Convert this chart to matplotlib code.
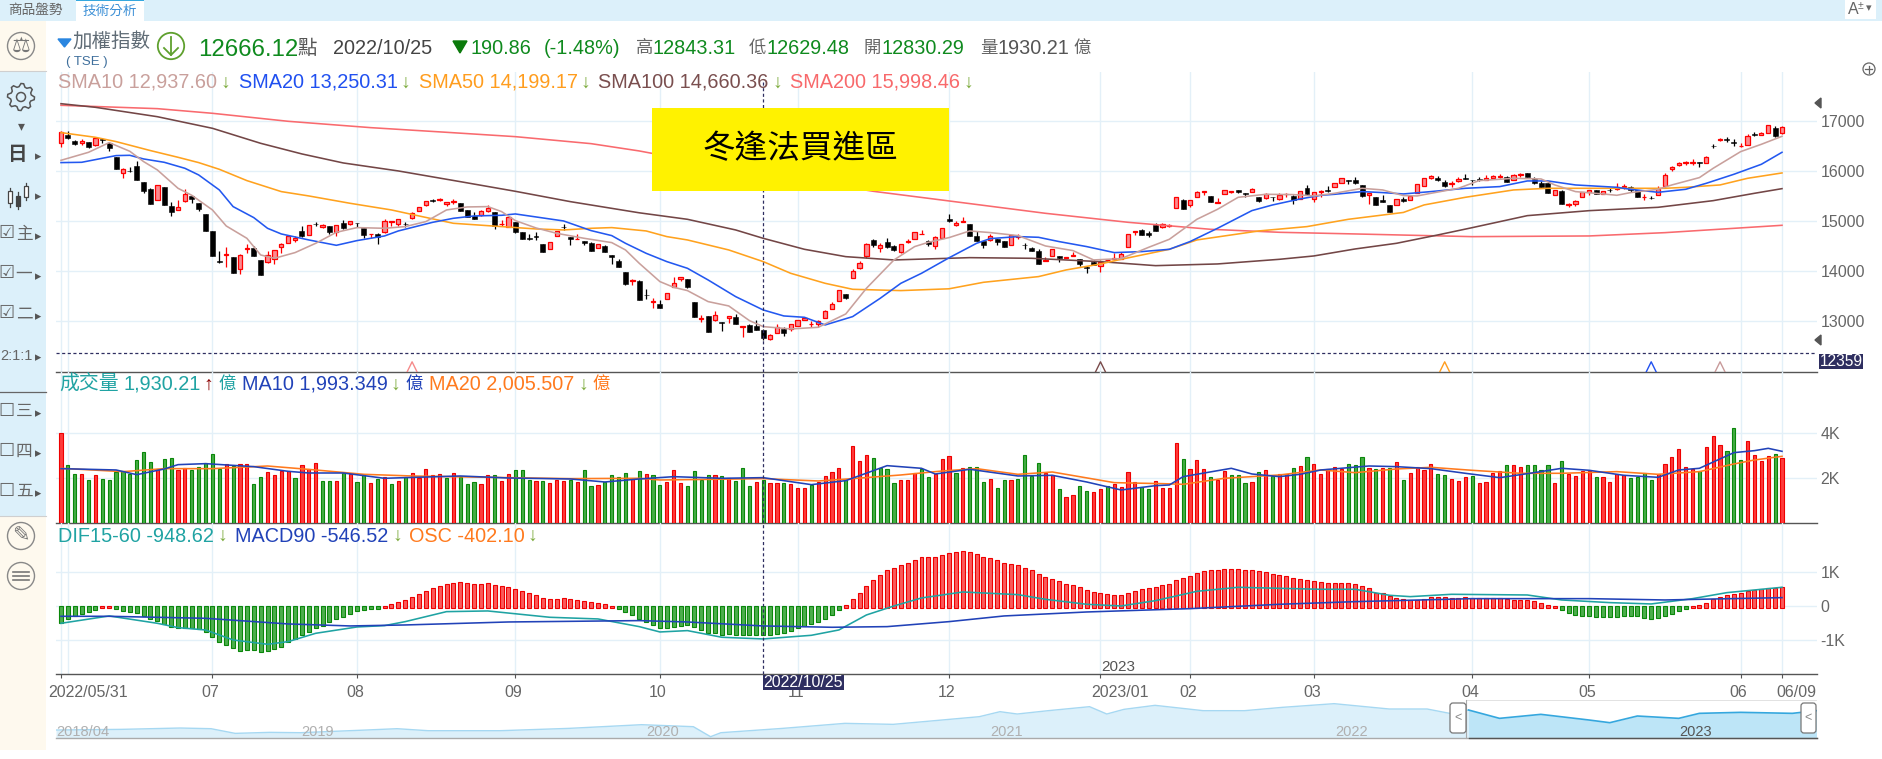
import numpy as np
import matplotlib
matplotlib.use("Agg")
import matplotlib.pyplot as plt
from matplotlib.patches import Rectangle, Circle, FancyBboxPatch, Polygon
from matplotlib.transforms import ScaledTranslation

plt.rcParams["font.family"] = ["Liberation Sans", "Noto Sans CJK TC", "DejaVu Sans"]

W, H = 1882, 759

# ============================================================
# Candles
# ============================================================

opens = [
    16560,16727,16607,16560,16580,16520,16640,16560,16287,15960,
    16014,16100,15780,15640,15420,15680,15300,15220,15400,15514,
    15367,15147,14807,14214,14327,14287,14040,14454,14460,14227,
    14180,14247,14480,14560,14620,14800,14720,14947,14880,14900,
    14780,14960,14940,14974,14860,14740,14747,14780,14994,14954,
    14954,15060,15200,15320,15427,15420,15354,15387,15360,15220,
    15100,15120,15200,15180,14940,14894,14980,14787,14660,14707,
    14540,14440,14700,14894,14680,14640,14600,14560,14460,14500,
    14320,14214,13980,13807,13800,13534,13387,13340,13440,13694,
    13854,13840,13380,13054,13100,13020,12980,13060,13080,12887,
    12920,12900,12830.29,12654,12774,12854,12854,12914,13020,12947,
    12940,13074,13254,13400,13540,13874,14060,14314,14627,14474,
    14580,14500,14394,14580,14640,14740,14614,14500,14660,15047,
    14920,14987,14947,14707,14607,14620,14654,14607,14534,14694,
    14534,14467,14414,14207,14314,14300,14260,14300,14240,14080,
    14194,14100,14227,14247,14254,14494,14794,14827,14774,14927,
    14880,14907,15274,15427,15334,15494,15587,15500,15374,15540,
    15594,15620,15560,15580,15487,15460,15494,15440,15540,15507,
    15440,15667,15440,15587,15620,15680,15760,15820,15827,15720,
    15527,15494,15427,15320,15320,15447,15420,15560,15707,15860,
    15867,15787,15747,15814,15860,15834,15847,15834,15874,15894,
    15880,15834,15927,15960,15847,15774,15774,15534,15607,15327,
    15347,15480,15594,15620,15540,15634,15647,15687,15694,15627,
    15480,15474,15534,15700,16054,16134,16160,16174,16180,16160,
    16514,16627,16640,16580,16500,16520,16747,16720,16760,16867,
    16760,
]
closes = [
    16794,16674,16540,16600,16494,16660,16620,16460,16054,16040,
    16000,15834,15614,15354,15720,15334,15180,15294,15540,15440,
    15240,14814,14314,14194,14340,13974,14320,14467,14314,13934,
    14320,14420,14540,14707,14667,14707,14920,14940,14920,14794,
    14920,14874,15000,14967,14734,14754,14694,15014,15014,15040,
    14940,15167,15280,15400,15407,15454,15380,15407,15214,15094,
    15054,15200,15267,14907,14954,15080,14794,14654,14654,14680,
    14394,14580,14800,14887,14640,14647,14560,14414,14540,14394,
    14280,14094,13754,13827,13434,13520,13400,13274,13560,13774,
    13880,13687,13094,13060,12794,13120,12967,13100,12947,12907,
    12794,12834,12666.12,12720,12894,12774,12940,13020,13074,12954,
    13014,13207,13340,13620,13467,14007,14167,14540,14520,14520,
    14494,14427,14540,14600,14780,14754,14540,14694,14860,15014,
    14967,15000,14714,14607,14520,14700,14594,14494,14720,14714,
    14520,14414,14154,14227,14440,14260,14280,14320,14147,14074,
    14134,14180,14234,14267,14354,14747,14807,14734,14720,14814,
    14940,14920,15480,15254,15420,15587,15600,15380,15387,15620,
    15607,15580,15547,15647,15407,15540,15480,15534,15554,15427,
    15600,15540,15594,15607,15600,15767,15860,15807,15760,15514,
    15560,15334,15380,15194,15440,15400,15500,15754,15860,15907,
    15820,15700,15760,15854,15854,15820,15820,15867,15900,15914,
    15794,15920,15954,15880,15760,15687,15574,15620,15354,15354,
    15400,15580,15627,15554,15600,15620,15687,15707,15627,15494,
    15494,15460,15640,15920,16094,16160,16180,16187,16167,16280,
    16507,16640,16627,16560,16514,16700,16734,16760,16920,16707,
    16880,
]
highs = [
    16807,16807,16627,16640,16594,16694,16660,16594,16294,16060,
    16094,16207,15780,15660,15720,15680,15380,15427,15640,15534,
    15367,15147,14807,14407,14487,14287,14340,14547,14507,14227,
    14407,14434,14560,14707,14707,14907,14920,14987,14954,14914,
    14920,15027,15014,14974,14874,14754,14760,15040,15014,15054,
    14980,15194,15280,15414,15447,15460,15380,15447,15360,15220,
    15180,15234,15320,15194,15027,15080,14980,14787,14747,14780,
    14540,14580,14800,14947,14680,14747,14600,14580,14540,14520,
    14320,14254,13980,13840,13827,13654,13460,13427,13560,13880,
    13880,13854,13380,13127,13100,13200,12980,13114,13147,12907,
    12940,13020,12843.31,12747,12940,12880,12954,13020,13074,13014,
    13027,13227,13387,13620,13540,14040,14200,14560,14647,14560,
    14674,14527,14540,14640,14780,14827,14627,14707,14860,15140,
    15014,15080,14947,14814,14607,14740,14654,14607,14720,14740,
    14574,14480,14447,14294,14440,14300,14280,14387,14254,14107,
    14227,14227,14254,14360,14387,14747,14807,14847,14814,14974,
    14974,14947,15480,15440,15420,15600,15600,15500,15474,15620,
    15607,15627,15560,15660,15487,15574,15494,15560,15567,15527,
    15600,15727,15594,15627,15707,15767,15860,15820,15880,15720,
    15560,15494,15520,15320,15440,15487,15500,15754,15860,15920,
    15907,15820,15807,15887,15947,15834,15880,15920,15934,15940,
    15900,15954,15974,15960,15894,15814,15774,15620,15627,15374,
    15427,15580,15627,15620,15600,15667,15760,15740,15707,15627,
    15547,15507,15707,15960,16114,16180,16207,16240,16180,16314,
    16554,16667,16680,16647,16560,16747,16794,16780,16920,16907,
    16900,
]
lows = [
    16494,16647,16527,16527,16474,16507,16574,16414,16054,15874,
    15994,15834,15574,15354,15420,15334,15114,15220,15394,15374,
    15214,14814,14314,14174,14094,13974,13954,14374,14314,13934,
    14174,14154,14374,14560,14594,14694,14720,14907,14860,14747,
    14714,14847,14934,14894,14660,14667,14554,14774,14914,14907,
    14894,15054,15200,15307,15394,15400,15307,15347,15214,15094,
    15047,15114,15194,14847,14907,14894,14774,14654,14627,14627,
    14394,14440,14700,14827,14527,14640,14534,14414,14460,14394,
    14147,14094,13734,13727,13434,13447,13274,13274,13440,13680,
    13800,13667,13094,12994,12794,13007,12807,12967,12947,12694,
    12787,12827,12629.48,12634,12774,12707,12814,12914,13020,12887,
    12887,13060,13254,13400,13447,13874,14054,14267,14480,14394,
    14474,14407,14374,14567,14640,14740,14507,14447,14660,14994,
    14914,14987,14714,14607,14474,14614,14527,14494,14534,14654,
    14447,14414,14154,14200,14314,14194,14260,14300,14107,13967,
    14127,13994,14200,14247,14254,14494,14727,14734,14694,14814,
    14867,14894,15274,15254,15287,15494,15520,15380,15374,15540,
    15560,15567,15480,15580,15394,15454,15414,15434,15494,15347,
    15440,15534,15387,15494,15587,15680,15760,15754,15754,15494,
    15354,15334,15380,15194,15320,15394,15420,15560,15707,15854,
    15814,15687,15694,15794,15847,15734,15800,15827,15847,15867,
    15787,15827,15894,15880,15747,15687,15574,15534,15354,15294,
    15314,15480,15534,15554,15540,15587,15634,15654,15594,15494,
    15427,15440,15534,15694,16014,16114,16134,16134,16080,16160,
    16474,16614,16594,16500,16494,16520,16714,16720,16760,16687,
    16754,
]

# ============================================================
# Moving averages, read at (bar number, level)
# ============================================================

sma10_i = [0,4,7,10,12,14,17,19,22,24,27,29,31,34,37,40,43,47,50,53,56,59,62,64,66,69,72,76,80,82,84,87,89,91,94,97,100,102,106,110,114,117,121,124,126,129,132,135,139,143,147,150,154,158,161,165,168,171,175,179,182,185,189,192,195,197,199,203,206,209,211,215,217,220,224,226,228,232,234,238,240,242,244,247,250]
sma10_v = [16220,16380,16574,16400,16194,16027,15660,15520,15227,14907,14660,14327,14260,14374,14560,14780,14874,14860,14894,14994,15227,15287,15294,15194,15014,14867,14760,14660,14574,14427,14160,13794,13680,13614,13394,13307,13014,12894,12847,12880,13147,13660,14227,14494,14580,14674,14807,14774,14714,14507,14414,14227,14254,14480,14640,15040,15240,15480,15540,15534,15507,15560,15660,15627,15514,15507,15560,15660,15814,15840,15860,15847,15727,15594,15547,15520,15574,15640,15727,15874,16060,16227,16394,16540,16700]

sma20_i = [0,3,8,10,12,15,18,20,23,25,28,30,32,36,40,43,47,49,54,57,60,64,66,73,77,80,82,85,88,91,94,98,102,105,108,111,115,119,122,125,129,133,135,139,142,145,149,153,157,161,164,168,173,176,180,183,185,189,192,195,199,204,209,213,216,220,226,228,232,236,239,243,247,250]
sma20_v = [16174,16180,16314,16320,16247,16180,16060,15927,15627,15294,15074,14860,14747,14627,14520,14614,14707,14807,14980,15060,15107,15120,15147,15007,14814,14714,14560,14360,14194,14060,13827,13494,13227,13107,13080,12927,13094,13460,13760,13960,14270,14560,14654,14694,14680,14594,14494,14374,14394,14440,14594,14860,15214,15327,15447,15520,15540,15594,15574,15547,15594,15660,15694,15807,15807,15727,15680,15640,15580,15640,15760,15940,16140,16380]

sma50_i = [0,5,8,13,17,20,23,27,32,36,42,48,52,57,64,69,73,77,80,85,88,91,97,102,106,111,115,122,129,134,142,146,151,154,161,165,170,174,181,187,195,198,204,211,216,222,233,236,241,245,250]
sma50_v = [16774,16680,16594,16414,16280,16174,16040,15814,15594,15507,15360,15227,15107,14960,14894,14847,14827,14860,14874,14807,14694,14627,14427,14194,13960,13760,13640,13614,13650,13780,13894,14027,14147,14240,14440,14627,14727,14807,14894,15040,15177,15327,15480,15627,15660,15660,15660,15680,15727,15860,15967]

sma100_i = [0,5,14,22,29,35,41,49,58,66,74,84,91,98,102,108,114,121,132,141,151,159,168,177,182,188,194,200,205,213,222,232,240,246,250]
sma100_v = [17352,17280,17092,16860,16560,16347,16167,16007,15793,15600,15393,15170,15040,14827,14660,14440,14293,14227,14273,14260,14193,14113,14147,14240,14307,14447,14560,14727,14873,15113,15213,15280,15413,15560,15653]

sma200_i = [0,14,22,33,45,56,66,77,84,100,118,129,143,155,167,177,188,205,222,233,250]
sma200_v = [17320,17253,17160,17000,16873,16780,16693,16553,16407,15993,15600,15407,15160,14980,14840,14780,14747,14693,14707,14773,14920]

# price at the dashed line, and bars where two averages cross (little peaks on the axis)
dash_level = 12359
cross_i = [51, 151, 201, 231, 241]
cross_colors = ["#f58a8a", "#7a4a4a", "#ff9d1e", "#2050f0", "#c89a9a"]

# ============================================================
# Volume
# ============================================================

volume = [
    4000,2577,2177,2177,1910,2133,1955,1910,2266,2310,
    2177,2799,3155,2710,2400,2844,2888,2355,2444,2355,
    2488,2666,3066,2400,2621,2533,2621,2621,1733,2044,
    2266,2133,2310,2310,2000,2577,2400,2666,1866,1866,
    1866,2222,2177,1822,2133,1777,1955,2044,1733,1866,
    2044,2222,2000,2400,2133,2177,2000,2222,2044,1733,
    1822,1733,2133,2133,1866,2177,2355,2355,1910,1866,
    1866,1777,1910,1866,1910,1822,2355,1644,1688,1822,
    2133,2044,2222,1955,2310,2177,2133,1688,1822,2355,
    1777,1644,2310,1910,2133,2133,2088,2000,1866,2444,
    1644,1822,1910,1777,1777,1777,1733,1555,1555,1688,
    1822,2088,2266,2444,1910,3421,2755,3021,2888,2444,
    2400,1777,1910,1910,2222,2400,2044,2177,2844,2977,
    2222,2444,2488,2488,1822,1955,1555,1910,1910,1955,
    3021,2088,2666,2222,2133,1511,1155,1244,1644,1422,
    1377,1511,1644,1733,1600,2266,1822,1600,1511,1866,
    1555,1555,3555,2844,2400,2799,2400,2044,1910,2310,
    2133,2133,1777,1822,2266,2355,2088,2177,2177,2444,
    2533,2933,2621,2177,2400,2488,2400,2621,2577,2933,
    2444,2400,2444,2444,2710,1910,2222,2488,2355,2621,
    2177,2133,1955,1866,2044,2088,1777,1822,2222,2310,
    2577,2577,2488,2577,2577,2355,2577,1777,2755,2177,
    2088,2310,2310,2044,2044,1822,2177,2133,2000,2044,
    2222,1910,2177,2621,2933,3288,2488,2400,2310,3377,
    3866,3466,3199,4221,2799,3644,3021,2755,2977,3066,
    2888,
]
volume_dir = (
    "rggrgrgggg" "ggggrggrrg" "ggggrgrrgg" "rrrrgrrrgg" "rgrggrgrgr"
    "grrrrrgrgg" "grrgrrgggr" "grrrgrggrg" "gggrgrggrr" "rggggrgrgg"
    "grgrrgrrrg" "rrrrgrrrgg" "ggrrrggrrr" "grgggrggrg" "gggrrgrrgg"
    "rrgrrrrggr" "rrrgrrrgrr" "gggrgrgrrg" "rgrrrrrggg" "rgrgrgrrrr"
    "ggrrrgrrrr" "grrggggrgr" "rrrgrrrrgg" "ggrrrrrrgr" "rrgggrrrrg"
    "r"
)

vol10_i = [0,8,11,15,17,21,28,33,36,41,47,50,58,65,74,79,84,89,96,102,109,114,120,125,127,132,139,144,149,154,159,161,163,170,173,177,180,183,190,194,199,204,209,214,218,222,227,232,235,238,243,246,248,250]
vol10_v = [2429,2370,2162,2414,2607,2651,2518,2310,2236,2236,2000,2029,2103,2014,1970,1836,1970,2073,2000,2029,1718,1896,2562,2444,2192,2400,2103,2133,1836,1481,1673,1703,2073,2444,2192,2073,2177,2370,2547,2518,2429,2222,2029,2251,2444,2355,2133,2044,2370,2444,3140,3229,3332,3199]

vol20_i = [0,9,15,22,30,37,44,51,62,74,84,87,102,110,115,122,128,133,139,144,153,160,163,169,177,183,188,194,199,205,212,218,226,232,238,243,246,250]
vol20_v = [2444,2296,2429,2429,2547,2370,2177,2103,2044,1985,2000,1925,1985,1881,1985,2148,2325,2429,2177,2281,1807,1762,1733,2000,2148,2370,2251,2414,2488,2355,2222,2222,2296,2177,2296,2636,2814,2977]

# ============================================================
# MACD
# ============================================================

osc = [
    -500,-363,-284,-225,-157,-98,10,20,-78,-127,
    -157,-196,-284,-382,-421,-519,-598,-627,-627,-647,
    -676,-745,-892,-1039,-1127,-1235,-1303,-1274,-1274,-1333,
    -1303,-1245,-1186,-1058,-970,-853,-745,-627,-568,-470,
    -363,-304,-216,-127,-98,-69,-69,20,78,137,
    186,265,363,441,529,588,647,676,706,676,
    647,647,676,617,588,559,500,441,382,323,
    235,206,206,235,206,186,157,127,98,59,
    0,-69,-157,-255,-363,-451,-539,-627,-647,-598,
    -568,-539,-598,-686,-774,-774,-833,-804,-833,-833,
    -833,-833,-833,-833,-804,-774,-715,-647,-568,-510,
    -451,-363,-245,-98,29,206,382,588,764,911,
    1058,1117,1205,1264,1352,1441,1441,1441,1499,1558,
    1588,1617,1588,1529,1441,1411,1352,1264,1235,1205,
    1117,1058,941,853,794,735,647,617,559,470,
    421,382,353,323,323,382,441,500,529,559,
    617,647,764,823,882,970,1029,1058,1058,1088,
    1088,1088,1058,1058,1029,1000,941,911,882,823,
    794,764,735,706,676,676,676,676,647,588,
    529,382,382,294,235,206,186,186,206,265,
    265,265,235,235,265,235,235,235,235,235,
    206,186,186,186,157,98,49,10,-98,-186,
    -245,-274,-274,-304,-304,-304,-304,-274,-274,-274,
    -333,-363,-333,-274,-216,-127,-69,10,29,88,
    206,265,323,353,382,441,470,500,529,529,
    559,
]

dif_i = [0,7,14,17,21,25,30,33,37,43,47,50,56,62,71,78,84,87,91,96,102,109,113,117,121,125,131,139,143,149,154,159,165,171,177,183,188,193,196,202,213,218,225,231,237,242,246,250]
dif_v = [-500,-284,-500,-627,-696,-990,-1117,-1039,-794,-608,-568,-451,-157,-137,-323,-372,-598,-755,-715,-911,-960,-853,-696,-255,10,245,421,343,206,59,10,167,441,559,529,500,500,323,284,353,333,186,108,69,225,402,480,559]

macd_i = [0,7,21,33,42,50,65,84,91,102,112,120,129,137,149,164,177,188,205,222,233,250]
macd_v = [-294,-294,-353,-519,-578,-549,-461,-421,-461,-578,-617,-598,-451,-284,-167,-69,59,137,225,225,186,255]

# ============================================================
# Time axis
# ============================================================

grid_i = [0,1,22,43,66,87,107,129,151,164,182,205,222,244,250]
month_i = [0,22,43,66,87,107,129,151,164,182,205,222,244,250]
month_lbl = ["2022/05/31","07","08","09","10","11","12","2023/01","02","03","04","05","06","06/09"]
cursor_i = 102
cursor_date = "2022/10/25"

# Overview strip
nav_t = [2018.29,2018.48,2018.65,2018.74,2018.81,2018.91,2019.0,2019.19,2019.28,2019.37,2019.58,2019.78,2019.99,2020.14,2020.19,2020.22,2020.40,2020.58,2020.72,2020.97,2021.03,2021.08,2021.17,2021.29,2021.34,2021.39,2021.48,2021.62,2021.74,2021.85,2022.0,2022.16,2022.27,2022.34,2022.39,2022.48,2022.60,2022.74,2022.80,2022.88,2023.0,2023.06,2023.18,2023.33,2023.40]
nav_v = [9760,10000,10480,10240,8560,8920,8800,9760,10240,9520,9520,10360,11680,10960,7360,8800,10360,12160,11800,14560,16360,15520,16720,18160,15520,17200,18640,16720,16720,17920,19240,17320,17320,15640,16960,13960,15400,13360,12400,14800,13960,15760,16120,15760,16720]
nav_sel = 2022.39
nav_year_t = [2019.05,2020.05,2021.05,2022.05,2023.05]
nav_year_lbl = ["2019","2020","2021","2022","2023"]

# ============================================================
# Panels
# ============================================================

GRID = "#e3f0f8"
AXIS = "#555555"
TICK = "#666666"
NAVY = "#2e2e60"
LEFT, RIGHT = 56, 1816.5
BAR_X0, BAR_DX = 61.0, 6.884

fig = plt.figure(figsize=(W / 100, H / 100), dpi=100, facecolor="white")


def px_axes(left, top, right, bottom, **kw):
    return fig.add_axes([left / W, 1 - bottom / H, (right - left) / W, (bottom - top) / H], **kw)


def style_panel(ax, ylim, yticks, ylabels, cursor_top=1.0):
    ax.set_xlim((LEFT - BAR_X0) / BAR_DX, (RIGHT - BAR_X0) / BAR_DX)
    ax.set_ylim(*ylim)
    ax.set_facecolor("none")
    for name in ["top", "left", "right"]:
        ax.spines[name].set_visible(False)
    ax.spines["bottom"].set_color(AXIS)
    ax.spines["bottom"].set_linewidth(1.0)
    ax.set_xticks(grid_i)
    ax.tick_params(axis="x", length=0, labelbottom=False)
    ax.yaxis.tick_right()
    ax.set_yticks(yticks)
    ax.set_yticklabels(ylabels, fontsize=11.5, color=TICK, ha="left")
    ax.tick_params(axis="y", length=0, pad=3)
    ax.grid(True, color=GRID, linewidth=1.0)
    ax.set_axisbelow(True)
    ax.axvline(cursor_i, ymax=cursor_top, color=NAVY, linewidth=0.9, linestyle=(0, (2.5, 2)), zorder=6)


idx = np.arange(len(opens))
o = np.array(opens, dtype=float)
c = np.array(closes, dtype=float)
hi = np.array(highs, dtype=float)
lo = np.array(lows, dtype=float)

# ---- main panel: 17000 at y=121.3, 1000 points = 50 px
ax_main = px_axes(LEFT, 72, RIGHT, 372.3)
style_panel(ax_main, (11980, 17986), [13000, 14000, 15000, 16000, 17000],
            ["13000", "14000", "15000", "16000", "17000"], cursor_top=0.973)

up = c >= o
ax_main.vlines(idx[up], lo[up], hi[up], color="#ff0000", linewidth=0.9, zorder=3)
ax_main.vlines(idx[~up], lo[~up], hi[~up], color="black", linewidth=0.9, zorder=3)
ax_main.bar(idx[up], (c - o)[up], bottom=o[up], width=0.62, facecolor="#fb8a8f",
            edgecolor="#ff0000", linewidth=0.9, zorder=4)
ax_main.bar(idx[~up], (o - c)[~up], bottom=c[~up], width=0.72, facecolor="black",
            edgecolor="black", linewidth=0.4, zorder=4)

ma_lines = [
    (sma200_i, sma200_v, "#f96a6e"),
    (sma100_i, sma100_v, "#734646"),
    (sma50_i, sma50_v, "#ffa21e"),
    (sma20_i, sma20_v, "#2358f0"),
    (sma10_i, sma10_v, "#c9a09c"),
]
for xs, ys, col in ma_lines:
    ax_main.plot(xs, ys, color=col, linewidth=1.15, zorder=5)

ax_main.axhline(dash_level, color=NAVY, linewidth=0.9, linestyle=(0, (2.5, 2)), zorder=2)

# little peaks on the axis
peak_w = 0.75
for i, col in zip(cross_i, cross_colors):
    ax_main.plot([i - peak_w, i, i + peak_w], [11980, 12190, 11980], color=col, linewidth=1.0, zorder=5)

# ---- volume panel: 2000 = 45 px
ax_vol = px_axes(LEFT, 372.3, RIGHT, 523.3)
style_panel(ax_vol, (0, 6711), [2000, 4000], ["2K", "4K"])
vol_up = np.array([d == "r" for d in volume_dir])
vol = np.array(volume, dtype=float)
ax_vol.bar(idx[vol_up], vol[vol_up], width=0.46, facecolor="#ff3b3b", edgecolor="#ee0000", linewidth=0.8, zorder=3)
ax_vol.bar(idx[~vol_up], vol[~vol_up], width=0.46, facecolor="#45ad45", edgecolor="#0a870a", linewidth=0.8, zorder=3)
ax_vol.plot(vol20_i, vol20_v, color="#ff7a1e", linewidth=1.15, zorder=4)
ax_vol.plot(vol10_i, vol10_v, color="#2142b8", linewidth=1.15, zorder=5)

# ---- MACD panel: 0 at y=606.3, 1000 = 34 px
ax_macd = px_axes(LEFT, 523.3, RIGHT, 674.3)
style_panel(ax_macd, (-2000, 2441), [-1000, 0, 1000], ["-1K", "0", "1K"])
os_arr = np.array(osc, dtype=float)
pos = os_arr >= 0
ax_macd.bar(idx[pos], os_arr[pos] + 40, bottom=-40, width=0.58, facecolor="#fb5a5a", edgecolor="#ee0000", linewidth=0.8, zorder=3)
ax_macd.bar(idx[~pos], os_arr[~pos], width=0.58, facecolor="#4cae4c", edgecolor="#0a870a", linewidth=0.8, zorder=3)
ax_macd.plot(dif_i, dif_v, color="#1fa3a3", linewidth=1.15, zorder=4)
ax_macd.plot(macd_i, macd_v, color="#2142b8", linewidth=1.15, zorder=5)

# month labels sit under the panel
lbl_by_bar = dict(zip(month_i, month_lbl))
ax_macd.set_xticks(grid_i)
ax_macd.set_xticklabels([lbl_by_bar.get(i, "") for i in grid_i])
ax_macd.tick_params(axis="x", length=3, color=AXIS, labelbottom=True, labelsize=11.5, labelcolor=TICK, pad=5)
label_shift = {"2022/05/31": 27, "2023/01": 20, "06/09": 14}
for bar, tick in zip(grid_i, ax_macd.xaxis.get_major_ticks()):
    if bar not in lbl_by_bar:
        tick.tick1line.set_visible(False)
        continue
    dx = label_shift.get(lbl_by_bar[bar], -2)
    tick.label1.set_transform(tick.label1.get_transform() + ScaledTranslation(dx / 100, 0, fig.dpi_scale_trans))

# ---- overview strip
ax_nav = px_axes(LEFT, 700, RIGHT, 737.7)
ax_nav.set_xlim(2018.29, 2023.40)
ax_nav.set_ylim(7000, 20560)
ax_nav.axis("off")
t = np.array(nav_t)
v = np.array(nav_v, dtype=float)
old = t <= nav_sel
new = t >= nav_sel
ax_nav.fill_between(t[old], 7000, v[old], color="#dcf0fa", linewidth=0)
ax_nav.plot(t[old], v[old], color="#a6d8f2", linewidth=1.0)
ax_nav.fill_between(t[new], 7000, v[new], color="#bde5f7", linewidth=0)
ax_nav.plot(t[new], v[new], color="#35a7de", linewidth=1.2)
ax_nav.axhline(7000, color="#aaaaaa", linewidth=1.0, clip_on=False)
ax_nav.plot([nav_sel, 2023.40], [7000, 7000], color="#555555", linewidth=1.0, clip_on=False)
ax_nav.text(2018.29, 8900, "2018/04", fontsize=10.5, color="#b0b0b0", ha="left", va="center")
for yr_t, yr in zip(nav_year_t, nav_year_lbl):
    ax_nav.text(yr_t, 8900, yr, fontsize=10.5, color="#555555" if yr == "2023" else "#b0b0b0", ha="center", va="center")

# ============================================================
# Page furniture, in pixel coordinates
# ============================================================

ov = fig.add_axes([0, 0, 1, 1], zorder=20)
ov.set_xlim(0, W)
ov.set_ylim(H, 0)
ov.axis("off")
ov.patch.set_alpha(0)

BLUE_BG = "#dcf0fa"
CREAM = "#fef9ee"
ICON = "#777777"


def txt(x, y, s, color="#555555", size=14, ha="left", **kw):
    ov.text(x, y, s, color=color, fontsize=size, ha=ha, va="center", **kw)


def box(x0, y0, x1, y1, color, z=1):
    ov.add_patch(Rectangle((x0, y0), x1 - x0, y1 - y0, facecolor=color, edgecolor="none", zorder=z))


# top tab bar
box(0, 0, W, 21, BLUE_BG)
box(76, 0, 144, 21, "white", z=2)
box(76, 0, 144, 1.2, "#35a7de", z=3)
txt(8, 10, "商品盤勢", color="#666666", size=9.8)
txt(83, 11, "技術分析", color="#3b8fd6", size=9.8, zorder=3)
box(1845, 0, 1876, 19, "white", z=2)
txt(1848, 9, "A", color="#666666", size=11.5, zorder=3)
txt(1858, 6, "±", color="#666666", size=7.5, zorder=3)
txt(1866, 8, "▾", color="#666666", size=8, zorder=3)

# left bar
box(0, 21, 46, 71, CREAM)
box(0, 71, 46, 515.7, BLUE_BG)
box(0, 515.7, 46, 750, CREAM)
ov.plot([0, 46], [71, 71], color="#cfcfcf", linewidth=0.8, zorder=2)
ov.plot([0, 46], [515.7, 515.7], color="#cfcfcf", linewidth=0.8, zorder=2)
ov.plot([0, 46], [392, 392], color="#666666", linewidth=0.9, zorder=2)

for cy in [46, 536, 576]:
    ov.add_patch(Circle((21, cy), 13.5, facecolor="none", edgecolor="#888888", linewidth=1.0, zorder=3))
txt(21, 46, "⚖", color=ICON, size=15, ha="center", zorder=3)

# gear outline
ang = np.deg2rad(np.arange(0, 360, 11.25))
rad = np.where(np.arange(len(ang)) % 4 < 2, 13.5, 10.5)
ov.add_patch(Polygon(np.column_stack([21 + rad * np.cos(ang), 97 + rad * np.sin(ang)]), closed=True,
                     facecolor="none", edgecolor="#555555", linewidth=1.1, zorder=3))
ov.add_patch(Circle((21, 97), 4.5, facecolor="none", edgecolor="#555555", linewidth=1.1, zorder=3))

txt(21, 126, "▾", color="#555555", size=10, ha="center", zorder=3)
txt(18, 155, "日", color="#444444", size=14, ha="center", weight="bold", zorder=3)
txt(21, 536, "✎", color=ICON, size=15, ha="center", zorder=3)
for dy in [-4, 0, 4]:
    ov.plot([13, 29], [576 + dy, 576 + dy], color=ICON, linewidth=1.2, zorder=3)

# candle icon
for x0, y0, y1, y2, y3 in [(10, 188, 191, 203, 207), (18, 192, 196, 206, 209), (26, 183, 186, 197, 200)]:
    ov.plot([x0, x0], [y0, y3], color="#444444", linewidth=0.9, zorder=3)
    ov.add_patch(Rectangle((x0 - 2.2, y1), 4.4, y2 - y1, facecolor="white" if x0 != 18 else "#444444",
                           edgecolor="#444444", linewidth=0.9, zorder=4))

for y, mark, name in [(234, "☑", "主"), (274, "☑", "一"), (314, "☑", "二"),
                      (411, "☐", "三"), (451, "☐", "四"), (491, "☐", "五")]:
    txt(6, y, mark, color="#666666", size=13, ha="center", zorder=3)
    txt(24, y, name, color="#666666", size=12, ha="center", zorder=3)
txt(16, 356, "2:1:1", color="#666666", size=10.5, ha="center", zorder=3)
for y in [157, 197, 237, 277, 317, 358, 414, 454, 494]:
    txt(38, y, "▸", color="#555555", size=9, ha="center", zorder=3)

# header row
GREEN = "#0f8a1e"
ov.fill([58, 71, 64.5], [39, 39, 47], color="#2a86e0", zorder=3)
txt(72, 41, "加權指數", color="#5f6b75", size=14)
txt(66, 62, "( TSE )", color="#3f6f9c", size=9.5)
ov.add_patch(Circle((171, 46), 13.2, facecolor="none", edgecolor="#5fa02e", linewidth=1.3, zorder=3))
ov.plot([171, 171], [37, 55], color="#5fa02e", linewidth=1.3, zorder=3)
ov.plot([164, 171, 178], [48, 55, 48], color="#5fa02e", linewidth=1.3, zorder=3)
HEAD_Y = 48
txt(198, HEAD_Y + 2, "12666.12", color=GREEN, size=17.3)
txt(297, HEAD_Y + 1, "點", color="#555555", size=14)
txt(333, HEAD_Y, "2022/10/25", color="#444444", size=14.3)
ov.fill([453, 467, 460], [41, 41, 53], color="#0b7a0b", zorder=3)
txt(471, HEAD_Y, "190.86", color=GREEN, size=14.3)
txt(544, HEAD_Y, "(-1.48%)", color=GREEN, size=14.3)
for lx, name, vx, val in [(636, "高", 653, "12843.31"), (749, "低", 767, "12629.48"), (864, "開", 882, "12830.29")]:
    txt(lx, HEAD_Y, name, color="#666666", size=12.5)
    txt(vx, HEAD_Y, val, color=GREEN, size=14.3)
txt(980, HEAD_Y, "量", color="#666666", size=12.5)
txt(998, HEAD_Y, "1930.21", color="#555555", size=14.3)
txt(1073, HEAD_Y, "億", color="#666666", size=12.5)

ARROW = "#7cab3c"
for x, s, col in [(58, "SMA10 12,937.60", "#c9a09c"), (239, "SMA20 13,250.31", "#2050f0"),
                  (419, "SMA50 14,199.17", "#ff9d1e"), (598, "SMA100 14,660.36", "#7a4f4f"),
                  (790, "SMA200 15,998.46", "#f8696b")]:
    txt(x, 82.5, s, color=col, size=14.3)
for x in [225, 405, 585, 777, 968]:
    txt(x, 83, "↓", color=ARROW, size=14, ha="center")

for x, s, col in [(59, "成交量", "#20a3a3"), (124, "1,930.21", "#20a3a3"), (218, "億", "#20a3a3"),
                  (242, "MA10 1,993.349", "#2142b8"), (405, "億", "#2142b8"),
                  (429, "MA20 2,005.507", "#ff7a1e"), (592, "億", "#ff7a1e")]:
    txt(x, 384.5, s, color=col, size=14.3 if "億" not in s else 12.5)
txt(208, 385, "↑", color="#8b0000", size=14, ha="center")
txt(395, 385, "↓", color=ARROW, size=14, ha="center")
txt(583, 385, "↓", color=ARROW, size=14, ha="center")

for x, s, col in [(58, "DIF15-60 -948.62", "#20a3a3"), (235, "MACD90 -546.52", "#2142b8"), (409, "OSC -402.10", "#ff7a1e")]:
    txt(x, 536, s, color=col, size=14.3)
for x in [222, 397, 532]:
    txt(x, 536, "↓", color=ARROW, size=14, ha="center")

# note box
box(652, 107.7, 949, 191, "#fff200", z=5)
txt(800, 150, "冬逢法買進區", color="black", size=23.5, ha="center", zorder=6)

# right side
ov.add_patch(Circle((1869, 69), 6, facecolor="none", edgecolor="#666666", linewidth=0.9, zorder=3))
ov.plot([1865.5, 1872.5], [69, 69], color="#666666", linewidth=0.9, zorder=3)
ov.plot([1869, 1869], [65.5, 72.5], color="#666666", linewidth=0.9, zorder=3)
for y in [103, 340]:
    ov.fill([1821, 1821, 1815], [y - 5, y + 5, y], color="#555555", zorder=3)
box(1819, 354, 1863, 369, NAVY, z=5)
txt(1841, 361.5, "12359", color="white", size=11.2, ha="center", zorder=6)

# cursor date
box(763, 675, 844, 690, NAVY, z=5)
txt(803.5, 682.5, cursor_date, color="white", size=11.5, ha="center", zorder=6)
txt(1118, 667, "2023", color="#555555", size=11, ha="center")

# overview handles
for x0, x1 in [(1450, 1466), (1801, 1816)]:
    ov.add_patch(FancyBboxPatch((x0, 703), x1 - x0, 30, boxstyle="round,pad=0,rounding_size=3",
                                facecolor="white", edgecolor="#777777", linewidth=0.9, zorder=5))
    txt((x0 + x1) / 2, 718, "<", color="#888888", size=9, ha="center", zorder=6)
ov.plot([1466, 1466], [700, 737.7], color="#aaaaaa", linewidth=0.8, zorder=4)
ov.plot([1466, 1816], [700, 700], color="#dddddd", linewidth=0.6, zorder=2)

fig.savefig("out.png", dpi=100)
